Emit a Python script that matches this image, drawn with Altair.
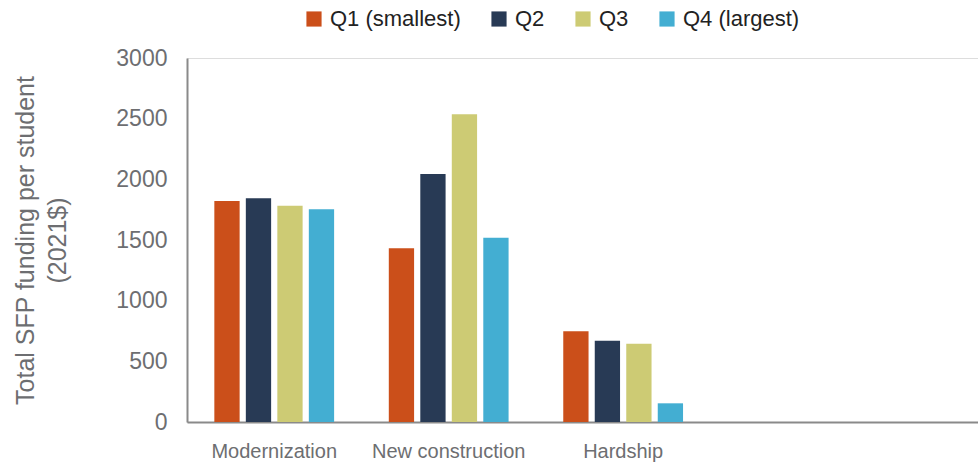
import altair as alt
import pandas as pd

categories = ["Modernization", "New construction", "Hardship"]
quartiles = ["Q1 (smallest)", "Q2", "Q3", "Q4 (largest)"]
q1_values = [1822, 1432, 747]
q2_values = [1844, 2044, 670]
q3_values = [1783, 2536, 645]
q4_values = [1753, 1519, 154]
colors = ["#CB4F1A", "#283A55", "#CDCB74", "#43AED2"]

rows = []
for q, vals in zip(quartiles, [q1_values, q2_values, q3_values, q4_values]):
    for c, v in zip(categories, vals):
        rows.append({"category": c, "quartile": q, "value": v})
df = pd.DataFrame(rows)

FONT = "Liberation Sans"
GREY = "#6d6e71"

chart = alt.Chart(df).mark_bar().encode(
    x=alt.X("category:N", sort=categories,
            scale=alt.Scale(paddingInner=0, paddingOuter=0.767, align=0),
            axis=alt.Axis(title=None, labelAngle=0, ticks=False, labelPadding=19,
                          labelFont=FONT, labelFontSize=20,
                          labelColor=GREY, domainColor="#8a8a8a", domainWidth=2)),
    xOffset=alt.XOffset("quartile:N", sort=quartiles,
                        scale=alt.Scale(paddingInner=0.197, paddingOuter=0.868)),
    y=alt.Y("value:Q", scale=alt.Scale(domain=[0, 3000], nice=False),
            axis=alt.Axis(title=["Total SFP funding per student", "(2021$)"],
                          values=[0, 500, 1000, 1500, 2000, 2500, 3000], format="d",
                          grid=False, ticks=False, labelPadding=20,
                          labelFont=FONT, labelFontSize=23, labelColor=GREY,
                          titleFont=FONT, titleFontSize=25, titleFontWeight="normal",
                          titleColor=GREY, titlePadding=45, titleLineHeight=32,
                          domainColor="#8a8a8a", domainWidth=2)),
    color=alt.Color("quartile:N", sort=quartiles,
                    scale=alt.Scale(domain=quartiles, range=colors),
                    legend=alt.Legend(title=None, orient="none", direction="horizontal",
                                      legendX=116, legendY=-50,
                                      symbolType="square", symbolSize=230,
                                      symbolStrokeWidth=0,
                                      labelFont=FONT, labelFontSize=22,
                                      labelColor="#222222", columnPadding=27,
                                      labelOffset=5)),
).properties(
    width=791, height=364,
    autosize=alt.AutoSizeParams(type="none"),
    padding={"left": 187, "top": 58, "right": 0, "bottom": 43},
).configure_view(stroke=None).configure(background="white")

chart.save("out.html", embed_options={"renderer": "svg", "actions": False})
